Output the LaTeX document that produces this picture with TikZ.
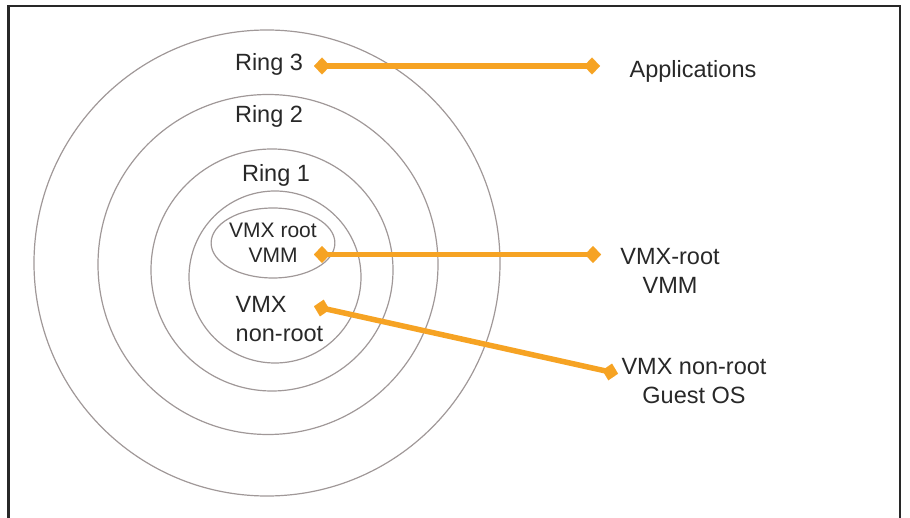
\documentclass[tikz,border=0pt]{standalone}
\usepackage{fontspec}
\setmainfont{Liberation Sans}
\usetikzlibrary{arrows.meta,shapes.geometric}
\definecolor{ringgray}{RGB}{160,152,152}
\definecolor{linkorange}{RGB}{246,163,35}
\definecolor{textgray}{RGB}{40,40,40}
\definecolor{framegray}{RGB}{40,40,40}
\begin{document}
\begin{tikzpicture}[x=1pt,y=-1pt,
  ring/.style={draw=ringgray,line width=1.2pt,circle,inner sep=0pt},
  lbl/.style={text=textgray,font=\fontsize{23.5}{29}\selectfont,inner sep=0pt,align=center},
  link/.style={draw=linkorange,line width=5.5pt,{Diamond[length=16pt,width=17pt,line width=0.01pt]}-{Diamond[length=16pt,width=17pt,line width=0.01pt]}}]
  \useasboundingbox (0,0) rectangle (910,518);
  % open frame (no bottom edge)
  \draw[framegray,line width=2.5pt] (8.5,518) -- (8.5,6) -- (900,6) -- (900,518);
  % privilege rings
  \node[ring,minimum size=466pt] (ring3) at (267,263) {};
  \node[ring,minimum size=340pt] (ring2) at (268,264.5) {};
  \node[ring,minimum size=242pt] (ring1) at (272,270) {};
  \node[ring,minimum size=172pt] (ring0) at (275,277) {};
  \node[draw=ringgray,line width=1.2pt,ellipse,inner sep=0pt,minimum width=120pt,minimum height=70pt,
        text=textgray,align=center,font=\fontsize{21}{25}\selectfont] (root) at (273,243) {VMX root\\VMM};
  % ring labels
  \node[lbl] (r3) at (269,64) {Ring 3};
  \node[lbl] (r2) at (269,116) {Ring 2};
  \node[lbl] (r1) at (276,175) {Ring 1};
  \node[lbl,align=left] (nonroot) at (279.5,319) {VMX\\non-root};
  % right-hand descriptions
  \node[lbl] (apps) at (693,71) {Applications};
  \node[lbl] (vmm) at (670,271) {VMX-root\\VMM};
  \node[lbl] (guest) at (694,381) {VMX non-root\\Guest OS};
  % connector end points
  \coordinate (a1) at (314,66);
  \coordinate (a2) at (600,66);
  \coordinate (b1) at (314,254.5);
  \coordinate (b2) at (601,254.5);
  \coordinate (c1) at (314,306.3);
  \coordinate (c2) at (618,373.7);
  \draw[link] (a1) -- (a2);
  \draw[link] (b1) -- (b2);
  \draw[link] (c1) -- (c2);
\end{tikzpicture}
\end{document}
